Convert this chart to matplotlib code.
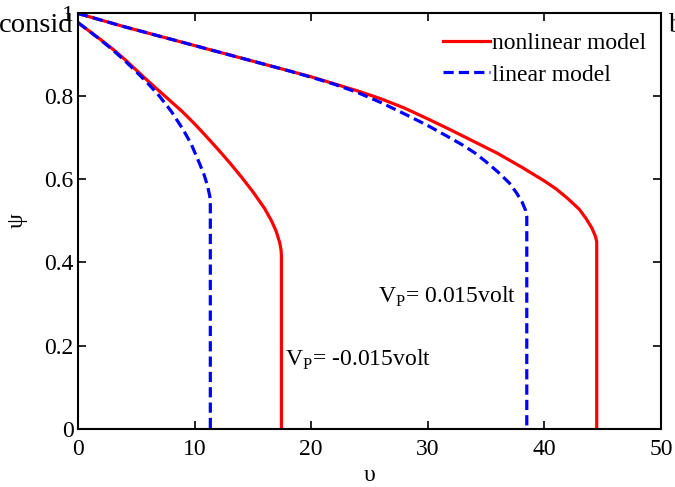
import matplotlib
matplotlib.use('Agg')
import matplotlib.pyplot as plt

plt.rcParams['font.family'] = ['Liberation Serif', 'DejaVu Serif']
plt.rcParams['mathtext.fontset'] = 'custom'
plt.rcParams['mathtext.rm'] = 'Liberation Serif'

# V_P = 0.015 volt branch
v_pos_nl = [0, 2, 4, 6, 8, 10, 12, 14, 16, 18, 20, 22, 24, 26, 28, 30, 32, 34, 36,
            38, 40, 41, 42, 43, 43.6, 44.1, 44.4, 44.5, 44.5]
psi_pos_nl = [0.998, 0.982, 0.966, 0.951, 0.936, 0.921, 0.906, 0.891, 0.876, 0.861,
              0.846, 0.829, 0.812, 0.793, 0.771, 0.745, 0.718, 0.690, 0.662, 0.630,
              0.596, 0.577, 0.554, 0.528, 0.505, 0.482, 0.462, 0.450, 0.0]
v_pos_lin = [0, 2, 4, 6, 8, 10, 12, 14, 16, 18, 20, 22, 24, 26, 28, 30, 32, 33, 34,
             35, 36, 37, 37.6, 38.1, 38.4, 38.5, 38.5]
psi_pos_lin = [0.998, 0.982, 0.966, 0.951, 0.936, 0.921, 0.906, 0.891, 0.876, 0.861,
               0.845, 0.828, 0.808, 0.784, 0.757, 0.729, 0.698, 0.682, 0.664, 0.642,
               0.618, 0.591, 0.568, 0.545, 0.525, 0.510, 0.0]

# V_P = -0.015 volt branch
v_neg_nl = [0, 1, 2, 3, 4, 5, 6, 7, 8, 9, 10, 11, 12, 13, 14, 15, 16, 16.6, 17.0,
            17.3, 17.42, 17.45, 17.45]
psi_neg_nl = [0.976, 0.955, 0.934, 0.912, 0.888, 0.862, 0.836, 0.811, 0.786, 0.761,
              0.733, 0.703, 0.672, 0.640, 0.606, 0.570, 0.530, 0.500, 0.475, 0.448,
              0.430, 0.415, 0.0]
v_neg_lin = [0, 1, 2, 3, 4, 5, 6, 7, 8, 9, 9.7, 10.3, 10.8, 11.1, 11.3, 11.35, 11.35]
psi_neg_lin = [0.976, 0.955, 0.933, 0.910, 0.885, 0.858, 0.830, 0.799, 0.763, 0.720,
               0.685, 0.646, 0.612, 0.585, 0.560, 0.545, 0.0]

fig = plt.figure(figsize=(6.75, 4.87), dpi=100)
ax = fig.add_axes([0.1156, 0.119, 0.8634, 0.855])

lw = 2.3
dash = (0, (3.2, 1.6))
ax.plot(v_pos_nl, psi_pos_nl, color='#ff0000', lw=lw, label='nonlinear model')
ax.plot(v_pos_lin, psi_pos_lin, color='#0000ff', lw=lw, ls=dash, label='linear model')
ax.plot(v_neg_nl, psi_neg_nl, color='#ff0000', lw=lw)
ax.plot(v_neg_lin, psi_neg_lin, color='#0000ff', lw=lw, ls=dash)

ax.set_xlim(0, 50)
ax.set_ylim(0, 1)
ax.set_xticks([0, 10, 20, 30, 40, 50])
ax.set_yticks([0, 0.2, 0.4, 0.6, 0.8, 1])
ax.set_yticklabels(['0', '0.2', '0.4', '0.6', '0.8', '1'])
ax.tick_params(direction='in', top=True, right=True, labelsize=17, length=6, width=1.2)
ax.tick_params(axis='x', pad=7)
ax.tick_params(axis='y', pad=3)
for s in ax.spines.values():
    s.set_linewidth(1.5)

ax.set_xlabel('υ', fontsize=17, labelpad=4)
ax.set_ylabel('ψ', fontsize=17, labelpad=12)

ax.text(25.7, 0.303, r'V$_\mathrm{P}$= 0.015volt', fontsize=17)
ax.text(17.75, 0.152, r'V$_\mathrm{P}$= -0.015volt', fontsize=17)

ax.legend(loc='upper right', bbox_to_anchor=(1.01, 1.0), frameon=False, fontsize=17,
          handlelength=2.0, handletextpad=0.1, labelspacing=0.42, borderaxespad=0.45)

# neighbouring page text clipped at the figure edge
fig.text(-0.002, 0.934, 'consid', fontsize=20.5, ha='left', va='baseline')
fig.text(0.99, 0.934, 'b', fontsize=20.5, ha='left', va='baseline')

fig.savefig('out.png', dpi=100)
